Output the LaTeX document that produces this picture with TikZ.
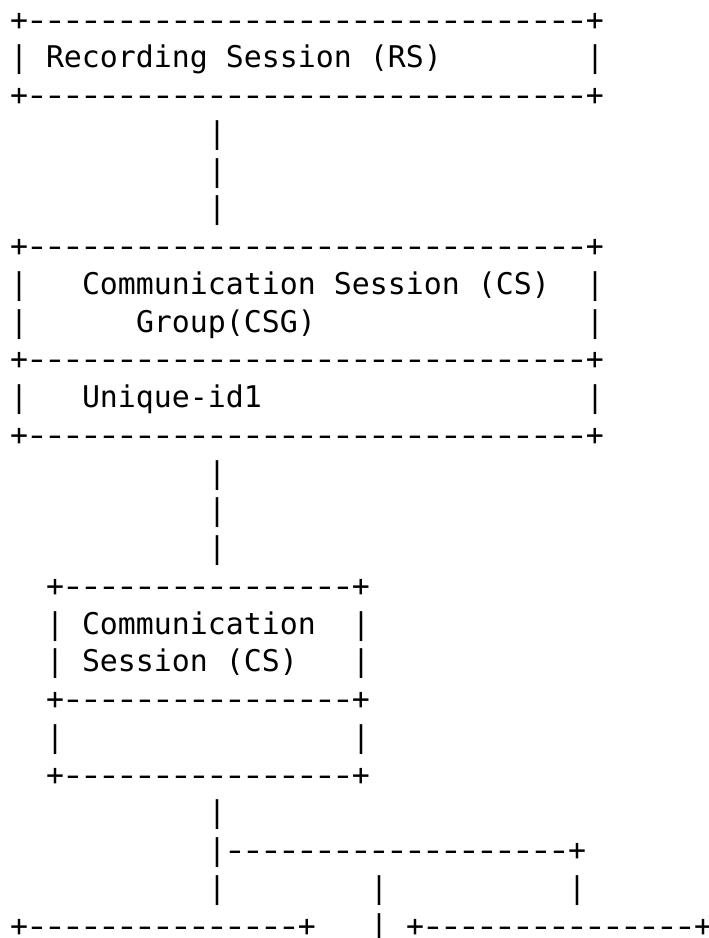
\documentclass[tikz,border=0pt]{standalone}
\usepackage{fontspec}
\newfontfamily\asciimono{DejaVu Sans Mono}
\tikzset{txt/.style={anchor=base west, inner sep=0pt, outer sep=0pt, text=black,
  font=\asciimono\fontsize{22.42pt}{28pt}\selectfont}}
\newcommand\onedash{\makebox[13.5pt][c]{\scalebox{1.35}[1]{-}}}
\newcommand\asciidash[1]{\foreach \k in {1,...,#1}{\onedash}}
\newcommand\asciibar[1]{\mbox{+}\asciidash{#1}\mbox{+}}
\newcommand\seg[4]{\node[txt] (#1) at ({10+18*#2},{30.2+37.75*#3}) {#4};}
\begin{document}
\begin{tikzpicture}[x=0.75pt,y=-0.75pt]
\useasboundingbox (0,0) rectangle (709,938);
% Recording Session box
\seg{rsTop}{0}{0}{\asciibar{31}}
\seg{rsL}{0}{1}{|}
\seg{rs}{2}{1}{Recording Session (RS)}
\seg{rsR}{32}{1}{|}
\seg{rsBot}{0}{2}{\asciibar{31}}
% link RS - CSG
\seg{la}{11}{3}{|}
\seg{lb}{11}{4}{|}
\seg{lc}{11}{5}{|}
% CSG box
\seg{csgTop}{0}{6}{\asciibar{31}}
\seg{csgLa}{0}{7}{|}
\seg{csgA}{4}{7}{Communication Session (CS)}
\seg{csgRa}{32}{7}{|}
\seg{csgLb}{0}{8}{|}
\seg{csgB}{7}{8}{Group(CSG)}
\seg{csgRb}{32}{8}{|}
\seg{csgMid}{0}{9}{\asciibar{31}}
\seg{csgLc}{0}{10}{|}
\seg{csgC}{4}{10}{Unique-id1}
\seg{csgRc}{32}{10}{|}
\seg{csgBot}{0}{11}{\asciibar{31}}
% link CSG - CS
\seg{ld}{11}{12}{|}
\seg{le}{11}{13}{|}
\seg{lf}{11}{14}{|}
% CS box
\seg{csTop}{2}{15}{\asciibar{16}}
\seg{csLa}{2}{16}{|}
\seg{csA}{4}{16}{Communication}
\seg{csRa}{19}{16}{|}
\seg{csLb}{2}{17}{|}
\seg{csB}{4}{17}{Session (CS)}
\seg{csRb}{19}{17}{|}
\seg{csMid}{2}{18}{\asciibar{16}}
\seg{csLc}{2}{19}{|}
\seg{csRc}{19}{19}{|}
\seg{csBot}{2}{20}{\asciibar{16}}
% branching links
\seg{lg}{11}{21}{|}
\seg{lh}{11}{22}{\mbox{|}\asciidash{19}\mbox{+}}
\seg{li}{11}{23}{|}
\seg{lj}{20}{23}{|}
\seg{lk}{31}{23}{|}
% bottom boxes
\seg{bLeft}{0}{24}{\asciibar{15}}
\seg{ll}{20}{24}{|}
\seg{bRight}{22}{24}{\asciibar{15}}
\end{tikzpicture}
\end{document}
